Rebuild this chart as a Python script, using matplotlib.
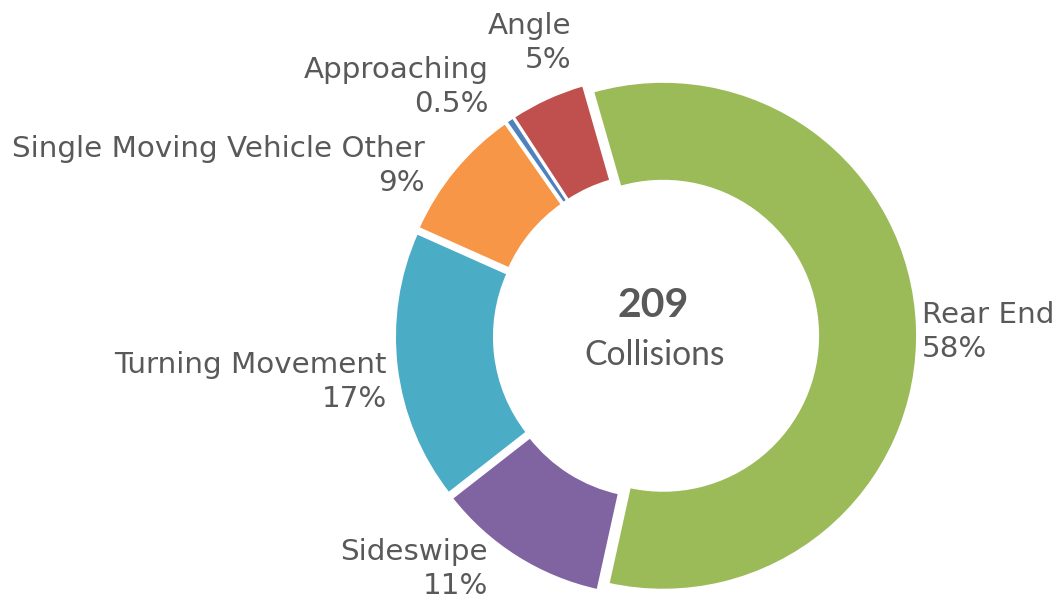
import matplotlib
matplotlib.use("Agg")
import matplotlib.pyplot as plt

# Collision types and counts
categories = ["Rear End", "Sideswipe", "Turning Movement",
              "Single Moving Vehicle Other", "Approaching", "Angle"]
counts = [121, 23, 36, 18, 1, 10]
colors = ["#9BBB59", "#8064A2", "#4BACC6", "#F79646", "#4F81BD", "#C0504D"]

total = sum(counts)

# label anchors (baseline of the percent line) and alignment around the ring
label_pos = [(1.047, -0.083), (-0.661, -1.016), (-1.059, -0.280),
             (-0.909, 0.571), (-0.657, 0.882), (-0.335, 1.055)]
label_ha = ["left", "right", "right", "right", "right", "right"]

W, H = 1056, 599
cx, cy, R = 656, 336, 254

fig = plt.figure(figsize=(W / 100, H / 100), dpi=100)
ax = fig.add_axes([0, 0, 1, 1])

ax.pie(counts, colors=colors, startangle=106, counterclock=False,
       radius=1, explode=[0.028] * len(counts),
       wedgeprops=dict(width=0.39, edgecolor="white", linewidth=1.5))

ax.set_xlim(-cx / R, (W - cx) / R)
ax.set_ylim(-(H - cy) / R, cy / R)
ax.set_aspect("equal")
ax.axis("off")


def pct_text(v):
    p = v / total * 100
    return f"{p:.1f}%" if p < 1 else f"{p:.0f}%"


for name, v, (x, y), ha in zip(categories, counts, label_pos, label_ha):
    ax.text(x, y, f"{name}\n{pct_text(v)}", ha=ha, va="baseline", ma=ha,
            fontsize=21.2, color="#595959", family="DejaVu Sans",
            linespacing=1.27)

# total in the middle
ax.text(-0.01, 0.075, str(total), ha="center", va="baseline",
        fontsize=29.5, fontweight="bold", color="#595959", family="Lato")
ax.text(-0.005, -0.114, "Collisions", ha="center", va="baseline",
        fontsize=24.2, color="#595959", family="Lato")

fig.savefig("out.png", dpi=100)
